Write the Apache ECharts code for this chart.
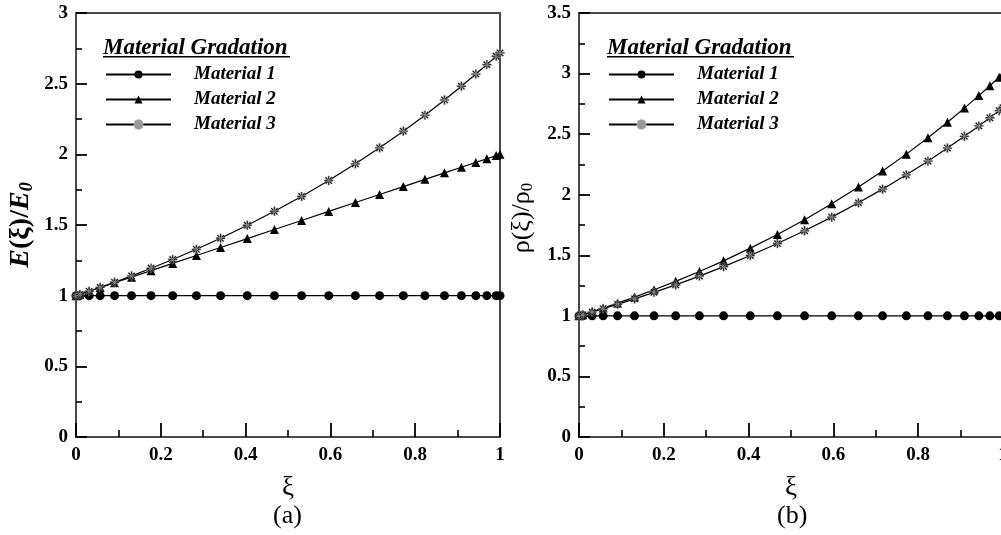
<!DOCTYPE html>
<html>
<head>
<meta charset="utf-8">
<script src="https://cdn.jsdelivr.net/npm/echarts@6/dist/echarts.min.js"></script>
<style>
  html, body { margin: 0; padding: 0; background: #fff; }
  #chart { width: 1001px; height: 535px; }
</style>
</head>
<body>
<div id="chart"></div>
<script>
// Non-dimensional coordinate of the sample points
const xi = [0, 0.009, 0.031, 0.057, 0.091, 0.131, 0.177, 0.228, 0.284, 0.341, 0.404, 0.468,
            0.532, 0.596, 0.659, 0.716, 0.772, 0.823, 0.869, 0.909, 0.943, 0.969, 0.991, 1];

// (a) Young's modulus ratio E(ξ)/E0
const eMat1 = [1, 1, 1, 1, 1, 1, 1, 1, 1, 1, 1, 1, 1, 1, 1, 1, 1, 1, 1, 1, 1, 1, 1, 1];
const eMat2 = [1, 1.009, 1.031, 1.057, 1.091, 1.131, 1.177, 1.228, 1.284, 1.341, 1.404, 1.468,
               1.532, 1.596, 1.659, 1.716, 1.772, 1.823, 1.869, 1.909, 1.943, 1.969, 1.991, 2];
const eMat3 = [1, 1.009, 1.031, 1.059, 1.095, 1.140, 1.194, 1.256, 1.328, 1.406, 1.498, 1.597,
               1.702, 1.815, 1.933, 2.046, 2.164, 2.277, 2.385, 2.482, 2.568, 2.635, 2.694, 2.718];

// (b) Density ratio ρ(ξ)/ρ0
const rMat1 = [1, 1, 1, 1, 1, 1, 1, 1, 1, 1, 1, 1, 1, 1, 1, 1, 1, 1, 1, 1, 1, 1, 1, 1];
const rMat2 = [1, 1.010, 1.035, 1.065, 1.105, 1.155, 1.215, 1.285, 1.366, 1.454, 1.559, 1.672,
               1.794, 1.925, 2.063, 2.196, 2.335, 2.470, 2.598, 2.715, 2.818, 2.900, 2.970, 3];
const rMat3 = [1, 1.009, 1.031, 1.059, 1.095, 1.140, 1.194, 1.256, 1.328, 1.406, 1.498, 1.597,
               1.702, 1.815, 1.933, 2.046, 2.164, 2.277, 2.385, 2.482, 2.568, 2.635, 2.694, 2.718];

const seriesNames = ['Material 1', 'Material 2', 'Material 3'];
const xTicks = { min: 0, max: 1, interval: 0.2 };
const legendTitle = 'Material Gradation';
const panelTags = ['(a)', '(b)'];

const SERIF = '"Liberation Serif", "Times New Roman", serif';
const FRAME = '#4a4a4a';
const TICK = '#000';

// eight-armed asterisk marker
const ASTERISK = 'path://M8.5,0L11.5,0L11.5,20L8.5,20Z M0,8.5L20,8.5L20,11.5L0,11.5Z ' +
  'M4,1.9L18.1,16L16,18.1L1.9,4Z M18.1,4L4,18.1L1.9,16L16,1.9Z';

const markers = [
  { symbol: 'circle', size: 9 },
  { symbol: 'triangle', size: 9 },
  { symbol: ASTERISK, size: 9 }
];

function pair(ys) { return xi.map((x, i) => [x, ys[i]]); }

function makeSeries(gridIdx, arrays) {
  return arrays.map((ys, k) => ({
    name: seriesNames[k],
    type: 'line',
    xAxisIndex: gridIdx,
    yAxisIndex: gridIdx,
    data: pair(ys),
    symbol: markers[k].symbol,
    symbolSize: markers[k].size,
    showSymbol: true,
    clip: false,
    lineStyle: { color: '#000', width: 1.2 },
    itemStyle: k === 2
      ? { color: '#000', borderColor: '#9a9a9a', borderWidth: 0.5 }
      : { color: '#000' },
    emphasis: { disabled: true },
    z: 3 + k
  }));
}

function xAxisCfg(gridIdx) {
  return {
    gridIndex: gridIdx,
    type: 'value',
    min: xTicks.min, max: xTicks.max, interval: xTicks.interval,
    name: 'ξ',
    nameLocation: 'middle',
    nameGap: 37,
    nameMoveOverlap: false,
    nameTextStyle: { fontFamily: SERIF, fontSize: 27, color: '#000' },
    axisLine: { show: true, onZero: false, lineStyle: { color: FRAME, width: 2 } },
    axisTick: { show: true, inside: true, length: 14, lineStyle: { color: TICK, width: 1.8 } },
    minorTick: { show: true, splitNumber: 2, length: 7, lineStyle: { color: TICK, width: 1.6 } },
    splitLine: { show: false },
    axisLabel: { fontFamily: SERIF, fontWeight: 'bold', fontSize: 19, color: '#000', margin: 9 }
  };
}

function yAxisCfg(gridIdx, max, nameCfg) {
  return Object.assign({
    gridIndex: gridIdx,
    type: 'value',
    min: 0, max: max, interval: 0.5,
    nameLocation: 'middle',
    nameRotate: 90,
    nameMoveOverlap: false,
    axisLine: { show: true, onZero: false, lineStyle: { color: FRAME, width: 2 } },
    axisTick: { show: true, inside: true, length: 11, lineStyle: { color: TICK, width: 1.8 } },
    minorTick: { show: true, splitNumber: 2, length: 6, lineStyle: { color: TICK, width: 1.6 } },
    splitLine: { show: false },
    axisLabel: { fontFamily: SERIF, fontWeight: 'bold', fontSize: 19, color: '#000', margin: 8 }
  }, nameCfg);
}

function legendCfg(left) {
  return {
    orient: 'vertical',
    left: left,
    top: 65,
    padding: 0,
    data: seriesNames,
    itemWidth: 65,
    itemHeight: 10,
    itemGap: 6,
    selectedMode: false,
    formatter: n => '{t|' + n + '}',
    textStyle: {
      rich: {
        t: {
          fontFamily: SERIF, fontWeight: 'bold', fontStyle: 'italic',
          fontSize: 19, lineHeight: 19, color: '#000', padding: [0, 0, 0, 18]
        }
      }
    }
  };
}

function legendHeading(x) {
  return [
    {
      type: 'text', left: x, top: 37, silent: true,
      style: {
        text: legendTitle, fill: '#000',
        font: 'italic bold 23px ' + SERIF
      }
    },
    {
      type: 'rect', left: x, top: 56, silent: true,
      shape: { width: 187, height: 1.6 },
      style: { fill: '#000' }
    }
  ];
}

const gridBase = {
  width: 424, height: 424, top: 13,
  show: true, borderColor: FRAME, borderWidth: 2,
  backgroundColor: 'transparent',
  containLabel: false,
  outerBoundsMode: 'none'
};

const option = {
  animation: false,
  backgroundColor: '#fff',
  grid: [
    Object.assign({ left: 76 }, gridBase),
    Object.assign({ left: 579 }, gridBase)
  ],
  xAxis: [xAxisCfg(0), xAxisCfg(1)],
  yAxis: [
    yAxisCfg(0, 3, {
      name: '{bi|E}{b|(ξ)/}{bi|E}{sub|0}',
      nameGap: 40,
      nameTextStyle: {
        color: '#000',
        rich: {
          bi: { fontFamily: SERIF, fontWeight: 'bold', fontStyle: 'italic', fontSize: 28, color: '#000' },
          b: { fontFamily: SERIF, fontWeight: 'bold', fontSize: 28, color: '#000' },
          sub: { fontFamily: SERIF, fontWeight: 'bold', fontStyle: 'italic', fontSize: 18, color: '#000', padding: [12, 0, 0, 0] }
        }
      }
    }),
    yAxisCfg(1, 3.5, {
      name: '{a|ρ(ξ)/ρ}{sub|0}',
      nameGap: 43,
      nameTextStyle: {
        color: '#000',
        rich: {
          a: { fontFamily: SERIF, fontSize: 26, color: '#000', padding: [0, 0, 0, 14] },
          sub: { fontFamily: SERIF, fontSize: 17, color: '#000', padding: [11, 0, 0, 0] }
        }
      }
    })
  ],
  legend: [legendCfg(105), legendCfg(608)],
  graphic: [].concat(
    legendHeading(103),
    legendHeading(607),
    [
      { type: 'text', left: 273, top: 503, silent: true,
        style: { text: panelTags[0], fill: '#000', font: '26px ' + SERIF } },
      { type: 'text', left: 777, top: 503, silent: true,
        style: { text: panelTags[1], fill: '#000', font: '26px ' + SERIF } }
    ]
  ),
  series: [].concat(
    makeSeries(0, [eMat1, eMat2, eMat3]),
    makeSeries(1, [rMat1, rMat2, rMat3])
  )
};

const chart = echarts.init(document.getElementById('chart'), null, { renderer: 'canvas' });
chart.setOption(option);
</script>
</body>
</html>
